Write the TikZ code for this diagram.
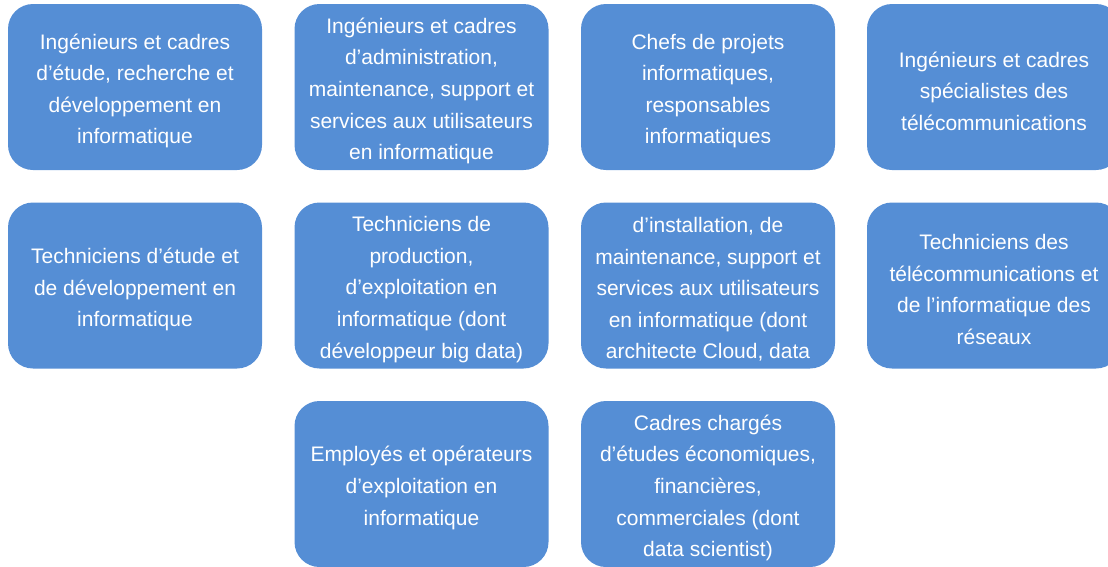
\documentclass[tikz,border=0pt]{standalone}
\usepackage{fontspec}
\setmainfont{Liberation Sans}
\definecolor{boxblue}{RGB}{85,142,213}
\begin{document}
\begin{tikzpicture}[x=1pt,y=-1pt,
  catbox/.style={draw=none, fill=boxblue, rounded corners=25pt, minimum width=254pt, minimum height=166pt, inner sep=0pt},
  catlabel/.style={inner sep=0pt, align=center, text=white, font=\fontsize{21}{31.6}\selectfont}]
\useasboundingbox (0,0) rectangle (1108,566);
\clip (0,0) rectangle (1108,566);
% boxes
\node[catbox] (r1c1) at (135,87) {};
\node[catbox] (r1c2) at (421.5,87) {};
\node[catbox] (r1c3) at (708,87) {};
\node[catbox] (r1c4) at (994,87) {};
\node[catbox] (r2c1) at (135,285.5) {};
\node[catbox] (r2c2) at (421.5,285.5) {};
\node[catbox] (r2c3) at (708,285.5) {};
\node[catbox] (r2c4) at (994,285.5) {};
\node[catbox] (r3c2) at (421.5,484) {};
\node[catbox] (r3c3) at (708,484) {};
% labels
\node[catlabel] (t1c1) at ([yshift=-4pt]r1c1.center) {Ingénieurs et cadres\\d’étude, recherche et\\développement en\\informatique};
\node[catlabel] (t1c2) at ([yshift=-4pt]r1c2.center) {Ingénieurs et cadres\\d’administration,\\maintenance, support et\\services aux utilisateurs\\en informatique};
\node[catlabel] (t1c3) at ([yshift=-4pt]r1c3.center) {Chefs de projets\\informatiques,\\responsables\\informatiques};
\node[catlabel] (t1c4) at ([yshift=-4pt]r1c4.center) {Ingénieurs et cadres\\spécialistes des\\télécommunications};
\node[catlabel] (t2c1) at ([yshift=-4pt]r2c1.center) {Techniciens d’étude et\\de développement en\\informatique};
\node[catlabel] (t2c2) at ([yshift=-4pt]r2c2.center) {Techniciens de\\production,\\d’exploitation en\\informatique (dont\\développeur big data)};
\node[catlabel] (t2c3) at ([yshift=-4pt]r2c3.center) {d’installation, de\\maintenance, support et\\services aux utilisateurs\\en informatique (dont\\architecte Cloud, data};
\node[catlabel] (t2c4) at ([yshift=-4pt]r2c4.center) {Techniciens des\\télécommunications et\\de l’informatique des\\réseaux};
\node[catlabel] (t3c2) at ([yshift=-4pt]r3c2.center) {Employés et opérateurs\\d’exploitation en\\informatique};
\node[catlabel] (t3c3) at ([yshift=-4pt]r3c3.center) {Cadres chargés\\d’études économiques,\\financières,\\commerciales (dont\\data scientist)};
\end{tikzpicture}
\end{document}
